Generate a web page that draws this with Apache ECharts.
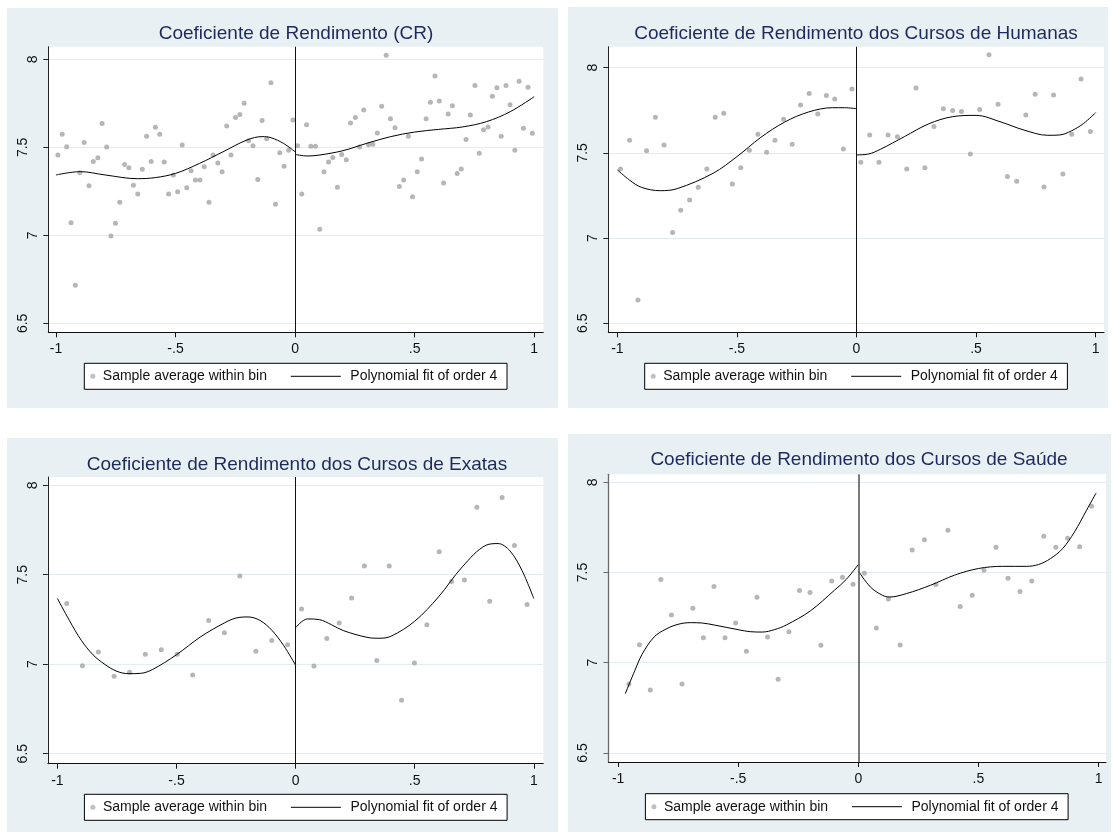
<!DOCTYPE html>
<html>
<head>
<meta charset="utf-8">
<title>Coeficiente de Rendimento</title>
<script src="https://cdn.jsdelivr.net/npm/echarts@6/dist/echarts.min.js"></script>
<style>
  html, body { margin: 0; padding: 0; background: #ffffff; }
  #chart { width: 1113px; height: 834px; }
</style>
</head>
<body>
<div id="chart"></div>
<script>
// Axis ticks and labels shared by all four panels
const xTickValues = [-1, -0.5, 0, 0.5, 1];
const xTickLabels = ['-1', '-.5', '0', '.5', '1'];
const yTickValues = [6.5, 7, 7.5, 8];
const yTickLabels = ['6.5', '7', '7.5', '8'];

const panelTitles = [
  'Coeficiente de Rendimento (CR)',
  'Coeficiente de Rendimento dos Cursos de Humanas',
  'Coeficiente de Rendimento dos Cursos de Exatas',
  'Coeficiente de Rendimento dos Cursos de Saúde'
];
const binName = 'Sample average within bin';
const fitName = 'Polynomial fit of order 4';

// CR - all courses: bin averages [score distance, CR]
const crBins = [
  [-0.992,7.456],[-0.974,7.574],[-0.955,7.504],[-0.937,7.072],[-0.919,6.716],[-0.900,7.356],
  [-0.882,7.528],[-0.862,7.282],[-0.844,7.420],[-0.825,7.441],[-0.807,7.636],[-0.788,7.502],
  [-0.770,6.996],[-0.751,7.068],[-0.733,7.188],[-0.713,7.402],[-0.695,7.384],[-0.676,7.284],
  [-0.658,7.235],[-0.639,7.375],[-0.621,7.563],[-0.602,7.420],[-0.584,7.614],[-0.566,7.574],
  [-0.547,7.417],[-0.529,7.235],[-0.509,7.343],[-0.491,7.248],[-0.472,7.513],[-0.453,7.271],
  [-0.435,7.367],[-0.417,7.314],[-0.398,7.314],[-0.380,7.390],[-0.360,7.188],[-0.343,7.456],
  [-0.323,7.411],[-0.305,7.362],[-0.286,7.621],[-0.268,7.456],[-0.249,7.669],[-0.231,7.686],
  [-0.213,7.750],[-0.194,7.538],[-0.176,7.509],[-0.156,7.318],[-0.138,7.653],[-0.119,7.549],
  [-0.101,7.867],[-0.082,7.176],[-0.064,7.470],[-0.046,7.392],[-0.027,7.483],[-0.009,7.655],
  [0.010,7.509],[0.028,7.235],[0.048,7.629],[0.066,7.506],[0.085,7.506],[0.103,7.034],
  [0.121,7.362],[0.140,7.417],[0.158,7.443],[0.177,7.273],[0.195,7.460],[0.214,7.430],
  [0.232,7.638],[0.252,7.670],[0.270,7.502],[0.287,7.712],[0.307,7.515],[0.325,7.517],
  [0.344,7.581],[0.362,7.733],[0.381,8.023],[0.399,7.663],[0.418,7.612],[0.436,7.277],
  [0.454,7.314],[0.474,7.563],[0.491,7.220],[0.511,7.362],[0.529,7.434],[0.548,7.663],
  [0.566,7.756],[0.585,7.905],[0.603,7.763],[0.621,7.297],[0.640,7.689],[0.658,7.737],
  [0.678,7.352],[0.695,7.377],[0.715,7.545],[0.733,7.684],[0.752,7.852],[0.770,7.466],
  [0.788,7.600],[0.807,7.616],[0.825,7.790],[0.844,7.839],[0.862,7.563],[0.882,7.852],
  [0.899,7.742],[0.919,7.483],[0.937,7.875],[0.955,7.608],[0.974,7.841],[0.992,7.580]
];
const crFitLeft = [
  [-1,7.343],[-0.898,7.362],[-0.794,7.343],[-0.660,7.322],[-0.585,7.328],[-0.5,7.352],
  [-0.399,7.409],[-0.301,7.475],[-0.201,7.542],[-0.138,7.561],[-0.101,7.555],[-0.049,7.523],[0,7.475]
];
const crFitRight = [
  [0,7.460],[0.05,7.451],[0.1,7.456],[0.2,7.481],[0.3,7.523],[0.4,7.561],
  [0.5,7.587],[0.6,7.602],[0.7,7.616],[0.8,7.646],[0.9,7.703],[1.0,7.788]
];

// Humanas
const humBins = [
  [-0.987,7.405],[-0.949,7.574],[-0.914,6.637],[-0.878,7.513],[-0.841,7.709],[-0.805,7.546],
  [-0.769,7.032],[-0.735,7.163],[-0.698,7.224],[-0.662,7.298],[-0.626,7.405],[-0.591,7.709],
  [-0.555,7.732],[-0.519,7.317],[-0.484,7.413],[-0.448,7.515],[-0.412,7.609],[-0.376,7.503],
  [-0.341,7.574],[-0.305,7.697],[-0.269,7.550],[-0.234,7.781],[-0.198,7.849],[-0.162,7.728],
  [-0.126,7.836],[-0.091,7.816],[-0.055,7.523],[-0.019,7.875],
  [0.018,7.445],[0.055,7.605],[0.094,7.445],[0.132,7.605],[0.171,7.595],[0.210,7.405],
  [0.249,7.881],[0.286,7.413],[0.324,7.654],[0.363,7.759],[0.402,7.748],[0.439,7.742],
  [0.476,7.493],[0.515,7.754],[0.554,8.076],[0.592,7.785],[0.631,7.362],[0.670,7.333],
  [0.708,7.722],[0.747,7.844],[0.784,7.300],[0.824,7.840],[0.863,7.376],[0.900,7.609],
  [0.939,7.934],[0.978,7.626]
];
const humFitLeft = [
  [-1,7.400],[-0.95,7.341],[-0.9,7.298],[-0.82,7.278],[-0.75,7.290],[-0.6,7.380],[-0.5,7.478],
  [-0.4,7.591],[-0.3,7.681],[-0.2,7.740],[-0.1,7.765],[-0.05,7.765],[0,7.759]
];
const humFitRight = [
  [0,7.488],[0.05,7.493],[0.1,7.521],[0.2,7.595],[0.3,7.669],[0.4,7.712],[0.5,7.720],
  [0.6,7.683],[0.7,7.634],[0.8,7.603],[0.85,7.605],[0.9,7.630],[0.95,7.673],[1.0,7.736]
];

// Exatas
const exaBins = [
  [-0.961,7.339],[-0.895,6.992],[-0.828,7.068],[-0.762,6.932],[-0.697,6.955],[-0.631,7.055],
  [-0.564,7.081],[-0.497,7.055],[-0.432,6.940],[-0.365,7.244],[-0.299,7.176],[-0.234,7.493],
  [-0.167,7.072],[-0.100,7.132],[-0.034,7.109],
  [0.025,7.309],[0.077,6.990],[0.131,7.143],[0.183,7.230],[0.235,7.370],[0.289,7.549],
  [0.341,7.020],[0.393,7.549],[0.445,6.798],[0.499,7.007],[0.551,7.221],[0.603,7.629],
  [0.655,7.462],[0.709,7.471],[0.761,7.877],[0.815,7.352],[0.867,7.931],[0.919,7.663],[0.972,7.333]
];
const exaFitLeft = [
  [-1,7.367],[-0.95,7.245],[-0.9,7.134],[-0.85,7.052],[-0.8,6.998],[-0.75,6.960],[-0.7,6.947],
  [-0.65,6.949],[-0.6,6.971],[-0.5,7.053],[-0.4,7.152],[-0.3,7.230],[-0.25,7.258],[-0.2,7.264],
  [-0.15,7.245],[-0.1,7.190],[-0.05,7.104],[0,6.994]
];
const exaFitRight = [
  [0,7.204],[0.05,7.253],[0.1,7.249],[0.15,7.221],[0.2,7.188],[0.3,7.150],[0.35,7.145],
  [0.4,7.156],[0.5,7.240],[0.6,7.376],[0.7,7.544],[0.8,7.665],[0.85,7.674],[0.9,7.633],
  [0.95,7.525],[1.0,7.367]
];

// Saúde
const sauBins = [
  [-0.955,6.882],[-0.911,7.100],[-0.866,6.849],[-0.822,7.461],[-0.778,7.265],[-0.734,6.882],
  [-0.689,7.302],[-0.645,7.139],[-0.601,7.422],[-0.555,7.139],[-0.511,7.220],[-0.466,7.063],
  [-0.422,7.363],[-0.378,7.143],[-0.334,6.908],[-0.289,7.172],[-0.245,7.400],[-0.201,7.389],
  [-0.156,7.097],[-0.111,7.453],[-0.066,7.473],[-0.022,7.435],
  [0.025,7.496],[0.075,7.193],[0.125,7.353],[0.174,7.098],[0.224,7.625],[0.275,7.682],
  [0.323,7.433],[0.373,7.734],[0.424,7.311],[0.474,7.374],[0.523,7.512],[0.573,7.640],
  [0.623,7.468],[0.673,7.394],[0.722,7.453],[0.772,7.701],[0.822,7.640],[0.871,7.690],
  [0.921,7.643],[0.971,7.867]
];
const sauFitLeft = [
  [-0.97,6.829],[-0.93,6.958],[-0.9,7.047],[-0.85,7.143],[-0.8,7.187],[-0.75,7.213],[-0.7,7.222],
  [-0.65,7.220],[-0.6,7.209],[-0.5,7.183],[-0.45,7.172],[-0.4,7.170],[-0.35,7.183],[-0.3,7.209],
  [-0.2,7.287],[-0.1,7.401],[-0.05,7.462],[0,7.544]
];
const sauFitRight = [
  [0,7.509],[0.05,7.420],[0.1,7.374],[0.13,7.364],[0.2,7.383],[0.3,7.429],[0.4,7.485],
  [0.5,7.522],[0.6,7.534],[0.7,7.534],[0.75,7.544],[0.8,7.577],[0.85,7.632],[0.9,7.725],
  [0.95,7.845],[0.99,7.941]
];

const panelData = [
  { bins: crBins,  fitLeft: crFitLeft,  fitRight: crFitRight },
  { bins: humBins, fitLeft: humFitLeft, fitRight: humFitRight },
  { bins: exaBins, fitLeft: exaFitLeft, fitRight: exaFitRight },
  { bins: sauBins, fitLeft: sauFitLeft, fitRight: sauFitRight }
];

// Panel geometry (pixels) and axis extents
const panelLayout = [
  { bg: [7, 8, 551, 400],   grid: [48.3, 46.7, 495, 285.6],   xr: [-1.032, 1.038], yr: [6.449, 8.072],
    titleX: 296, titleY: 34, legend: [84.3, 363.3], zeroColor: '#111', yAxisColor: '#222', zeroWidth: 1 },
  { bg: [568, 7, 540, 401],  grid: [608.3, 46.7, 495.7, 285.6], xr: [-1.038, 1.035], yr: [6.447, 8.123],
    titleX: 856, titleY: 34, legend: [644.7, 363.3], zeroColor: '#111', yAxisColor: '#222', zeroWidth: 1 },
  { bg: [7, 438, 551, 394],  grid: [47.9, 477, 495.4, 286.7],   xr: [-1.040, 1.040], yr: [6.444, 8.046],
    titleX: 297, titleY: 465.5, legend: [84.4, 794.3], zeroColor: '#111', yAxisColor: '#222', zeroWidth: 1 },
  { bg: [568, 434, 543, 398], grid: [608.5, 474.3, 497.5, 287.7], xr: [-1.040, 1.031], yr: [6.450, 8.044],
    titleX: 859, titleY: 460.5, legend: [645.4, 793.7], zeroColor: '#5a5a5a', yAxisColor: '#6a6a6a', zeroWidth: 1.6 }
];

const FONT = "'Liberation Sans', Arial, Helvetica, sans-serif";
const TITLE_COLOR = '#1c2a5c';
const BG_COLOR = '#e9f0f3';
const GRID_COLOR = '#e3ecef';
const DOT_COLOR = '#a4a4a4';

const grids = [], xAxes = [], yAxes = [], series = [], titles = [], legends = [], graphics = [];

panelLayout.forEach((p, i) => {
  graphics.push({
    type: 'rect', z: -100, silent: true,
    shape: { x: p.bg[0], y: p.bg[1], width: p.bg[2], height: p.bg[3] },
    style: { fill: BG_COLOR }
  });

  grids.push({
    left: p.grid[0], top: p.grid[1], width: p.grid[2], height: p.grid[3],
    show: true, backgroundColor: '#ffffff', borderWidth: 0, containLabel: false
  });

  xAxes.push({
    type: 'value', gridIndex: i, min: p.xr[0], max: p.xr[1], position: 'bottom',
    axisLine: { show: true, onZero: false, lineStyle: { color: '#111', width: 1 } },
    axisTick: { show: true, length: 5, customValues: xTickValues, lineStyle: { color: '#111' } },
    axisLabel: {
      customValues: xTickValues, margin: 10, fontFamily: FONT, fontSize: 14, color: '#111',
      formatter: v => xTickLabels[xTickValues.findIndex(t => Math.abs(t - v) < 1e-9)]
    },
    splitLine: { show: false }
  });

  yAxes.push({
    type: 'value', gridIndex: i, min: p.yr[0], max: p.yr[1], position: 'left',
    axisLine: { show: true, onZero: false, lineStyle: { color: p.yAxisColor, width: i === 3 ? 1.3 : 1 } },
    axisTick: { show: true, length: 5, customValues: yTickValues, lineStyle: { color: p.yAxisColor } },
    axisLabel: {
      customValues: yTickValues, rotate: 90, margin: 8, fontFamily: FONT, fontSize: 14, color: '#111',
      formatter: v => {
        const s = yTickLabels[yTickValues.findIndex(t => Math.abs(t - v) < 1e-9)];
        return s.length > 1 ? '{w|' + s + '}' : '{n|' + s + '}';
      },
      rich: {
        n: { fontFamily: FONT, fontSize: 14, color: '#111' },
        w: { fontFamily: FONT, fontSize: 14, color: '#111', padding: [0, 0, 10, 0] }
      }
    },
    splitLine: { show: true, lineStyle: { color: GRID_COLOR, width: 1 } }
  });

  titles.push({
    text: panelTitles[i], left: p.titleX, top: p.titleY - 10, textAlign: 'center', padding: 0,
    textStyle: { fontFamily: FONT, fontSize: 19, fontWeight: 'normal', color: TITLE_COLOR }
  });

  const d = panelData[i];
  series.push({
    type: 'scatter', name: binName, xAxisIndex: i, yAxisIndex: i, data: d.bins,
    symbol: 'circle', symbolSize: 5, itemStyle: { color: DOT_COLOR },
    markLine: {
      silent: true, symbol: ['none', 'none'], label: { show: false },
      lineStyle: { color: p.zeroColor, width: p.zeroWidth, type: 'solid' },
      emphasis: { disabled: true },
      data: [{ xAxis: 0 }]
    },
    z: 2
  });
  [d.fitLeft, d.fitRight].forEach(fit => {
    series.push({
      type: 'line', name: fitName, xAxisIndex: i, yAxisIndex: i, data: fit,
      symbol: 'none', showSymbol: false, smooth: 0.35, color: '#000',
      lineStyle: { color: '#000', width: 1 }, z: 3
    });
  });

  // Legend: outer boxed entry for the bin averages, plus the fit entry placed inside the same box
  const L = p.legend[0], T = p.legend[1];
  legends.push({
    left: L, top: T, orient: 'horizontal', selectedMode: false,
    data: [{ name: binName, icon: 'circle', itemStyle: { color: '#b0b0b0' } }],
    itemWidth: 5, itemHeight: 14,
    padding: [6, 240, 6, 6],
    backgroundColor: '#ffffff', borderColor: '#000', borderWidth: 1, borderRadius: 0,
    textStyle: { fontFamily: FONT, fontSize: 14, color: '#111', padding: [0, 0, 0, 2.5] }
  });
  legends.push({
    left: L + 206, top: T + 6, orient: 'horizontal', selectedMode: false,
    data: [{ name: fitName }],
    itemWidth: 50, itemHeight: 14, padding: 0,
    itemStyle: { opacity: 0 },
    lineStyle: { width: 1, color: '#000' },
    textStyle: { fontFamily: FONT, fontSize: 14, color: '#111', padding: [0, 0, 0, 4.5] }
  });
});

const chart = echarts.init(document.getElementById('chart'), null, { renderer: 'canvas' });
chart.setOption({
  animation: false,
  backgroundColor: '#ffffff',
  textStyle: { fontFamily: FONT },
  graphic: { elements: graphics },
  title: titles,
  legend: legends,
  grid: grids,
  xAxis: xAxes,
  yAxis: yAxes,
  series: series
});
</script>
</body>
</html>
